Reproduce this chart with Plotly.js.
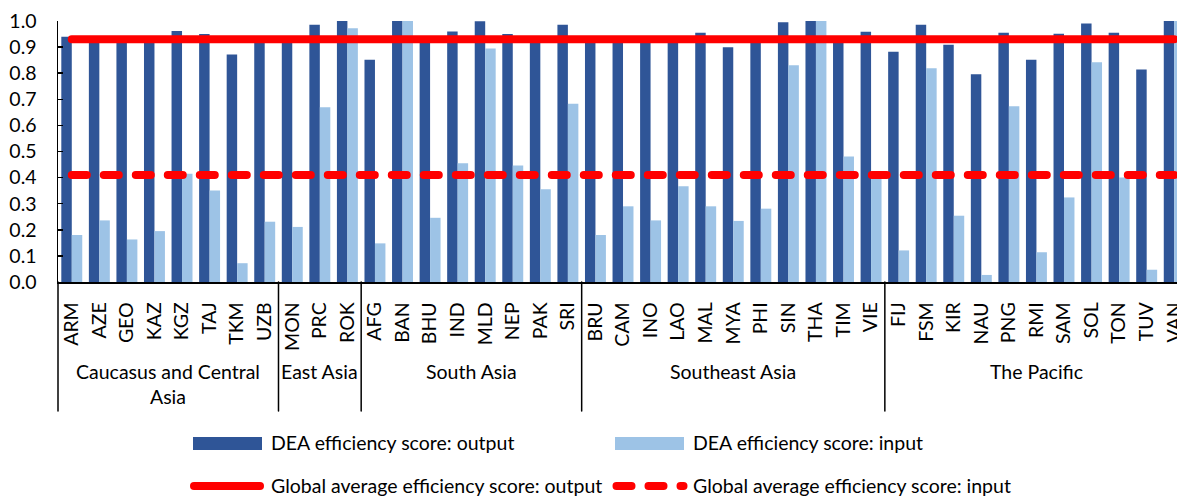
<!DOCTYPE html>
<html>
<head>
<meta charset="utf-8">
<script src="https://cdn.plot.ly/plotly-3.0.1.min.js"></script>
<style>
  html, body { margin: 0; padding: 0; background: #fff; }
  #chart { width: 1177px; height: 496px; }
  .js-line, .shapelayer path { stroke-linecap: round; }
</style>
</head>
<body>
<div id="chart"></div>
<script>
// ---- data ----
const categories = ["ARM","AZE","GEO","KAZ","KGZ","TAJ","TKM","UZB",
  "MON","PRC","ROK",
  "AFG","BAN","BHU","IND","MLD","NEP","PAK","SRI",
  "BRU","CAM","INO","LAO","MAL","MYA","PHI","SIN","THA","TIM","VIE",
  "FIJ","FSM","KIR","NAU","PNG","RMI","SAM","SOL","TON","TUV","VAN"];
const groupNames = ["Caucasus and Central<br>Asia","East Asia","South Asia","Southeast Asia","The Pacific"];
const groupSizes = [8, 3, 8, 11, 11];
const outputScores = [0.940,0.930,0.930,0.930,0.962,0.950,0.872,0.930,
  0.930,0.986,1.000,
  0.852,1.000,0.930,0.960,0.999,0.950,0.930,0.986,
  0.930,0.930,0.930,0.930,0.955,0.899,0.930,0.995,1.000,0.930,0.959,
  0.882,0.986,0.909,0.796,0.955,0.852,0.951,0.990,0.955,0.814,1.000];
const inputScores = [0.180,0.236,0.163,0.195,0.415,0.351,0.072,0.231,
  0.211,0.670,0.972,
  0.148,1.000,0.246,0.455,0.895,0.446,0.355,0.683,
  0.180,0.290,0.236,0.367,0.290,0.234,0.281,0.830,1.000,0.481,0.400,
  0.121,0.819,0.254,0.027,0.673,0.114,0.324,0.842,0.400,0.047,1.000];
const globalAvgOutput = 0.93;
const globalAvgInput = 0.41;
const yTickVals = [0,0.1,0.2,0.3,0.4,0.5,0.6,0.7,0.8,0.9,1.0];
const yTickText = ["0.0","0.1","0.2","0.3","0.4","0.5","0.6","0.7","0.8","0.9","1.0"];
const seriesNames = ["DEA efficiency score: output","DEA efficiency score: input",
  "Global average efficiency score: output","Global average efficiency score: input"];

// ---- style / layout ----
const FONT = "Lato, 'Noto Sans', sans-serif";
const W = 1177, H = 496;
const M = {l: 58, r: 0, t: 21, b: 214};
const plotW = W - M.l - M.r, plotH = H - M.t - M.b;
const xRange = [-0.5, 40.1];
const DARK = "#2F5597", LIGHT = "#9DC3E6", RED = "#FF0000";
const px2x = p => (p - M.l) / plotW;
const py2y = p => (H - M.b - p) / plotH;
const idx2x = i => (i - xRange[0]) / (xRange[1] - xRange[0]);

const traces = [
  {type: "bar", name: seriesNames[0], x: categories, y: outputScores,
   marker: {color: DARK}, showlegend: false, hoverinfo: "x+y"},
  {type: "bar", name: seriesNames[1], x: categories, y: inputScores,
   marker: {color: LIGHT}, showlegend: false, hoverinfo: "x+y"},
  {type: "scatter", mode: "lines", name: seriesNames[2],
   x: [categories[0], categories[categories.length-1]], y: [globalAvgOutput, globalAvgOutput],
   line: {color: RED, width: 8}, showlegend: false},
  {type: "scatter", mode: "lines", name: seriesNames[3],
   x: [categories[0], categories[categories.length-1]], y: [globalAvgInput, globalAvgInput],
   line: {color: RED, width: 8, dash: "15px,17px"}, showlegend: false}
];

// group dividers and labels
const shapes = [];
const annotations = [];
let start = 0;
const divBottom = py2y(411);
shapes.push({type: "line", xref: "paper", yref: "paper", x0: idx2x(-0.5), x1: idx2x(-0.5),
  y0: 0, y1: divBottom, line: {color: "#000", width: 1.5}});
groupSizes.forEach((n, g) => {
  const end = start + n;
  const bx = idx2x(end - 0.5);
  shapes.push({type: "line", xref: "paper", yref: "paper", x0: bx, x1: bx,
    y0: 0, y1: divBottom, line: {color: "#000", width: 1.5}});
  annotations.push({xref: "x", yref: "paper", x: (start + end - 1) / 2, y: py2y(358),
    xanchor: "center", yanchor: "top", showarrow: false, align: "center",
    text: groupNames[g], font: {family: FONT, size: 19.5, color: "#000"}});
  start = end;
});

// legend (drawn manually to match the swatch shapes)
shapes.push({type: "rect", xref: "paper", yref: "paper", x0: px2x(193), x1: px2x(262),
  y0: py2y(450), y1: py2y(437), fillcolor: DARK, line: {width: 0}});
shapes.push({type: "rect", xref: "paper", yref: "paper", x0: px2x(615), x1: px2x(684),
  y0: py2y(450), y1: py2y(437), fillcolor: LIGHT, line: {width: 0}});
shapes.push({type: "line", xref: "paper", yref: "paper", x0: px2x(194), x1: px2x(260),
  y0: py2y(486), y1: py2y(486), line: {color: RED, width: 8}});
shapes.push({type: "line", xref: "paper", yref: "paper", x0: px2x(616.5), x1: px2x(683.5),
  y0: py2y(486), y1: py2y(486), line: {color: RED, width: 8, dash: "15px,17px"}});
const legendTextPos = [[269, 443],[691, 443],[269, 485],[691, 485]];
seriesNames.forEach((s, i) => {
  annotations.push({xref: "paper", yref: "paper", x: px2x(legendTextPos[i][0]), y: py2y(legendTextPos[i][1]),
    xanchor: "left", yanchor: "middle", showarrow: false, text: s,
    font: {family: FONT, size: 19.5, color: "#000"}});
});

const layout = {
  width: W, height: H,
  margin: M,
  paper_bgcolor: "#fff", plot_bgcolor: "#fff",
  font: {family: FONT, size: 19, color: "#000"},
  barmode: "group", bargap: 0.24, bargroupgap: 0,
  showlegend: false,
  xaxis: {type: "category", range: xRange, showgrid: false, zeroline: false,
    showline: true, linecolor: "#000", linewidth: 1.5, ticks: "",
    tickangle: -90, ticklabelstandoff: 11,
    tickfont: {family: FONT, size: 19.5, color: "#000"}},
  yaxis: {range: [0, 1], showgrid: false, zeroline: false,
    showline: true, linecolor: "#000", linewidth: 1.5,
    ticks: "inside", ticklen: 5, tickwidth: 1.5, tickcolor: "#000",
    tickvals: yTickVals, ticktext: yTickText, ticklabelstandoff: 16,
    tickfont: {family: FONT, size: 19.5, color: "#000"}},
  shapes: shapes,
  annotations: annotations
};

Plotly.newPlot("chart", traces, layout, {displayModeBar: false, staticPlot: true});
</script>
</body>
</html>
